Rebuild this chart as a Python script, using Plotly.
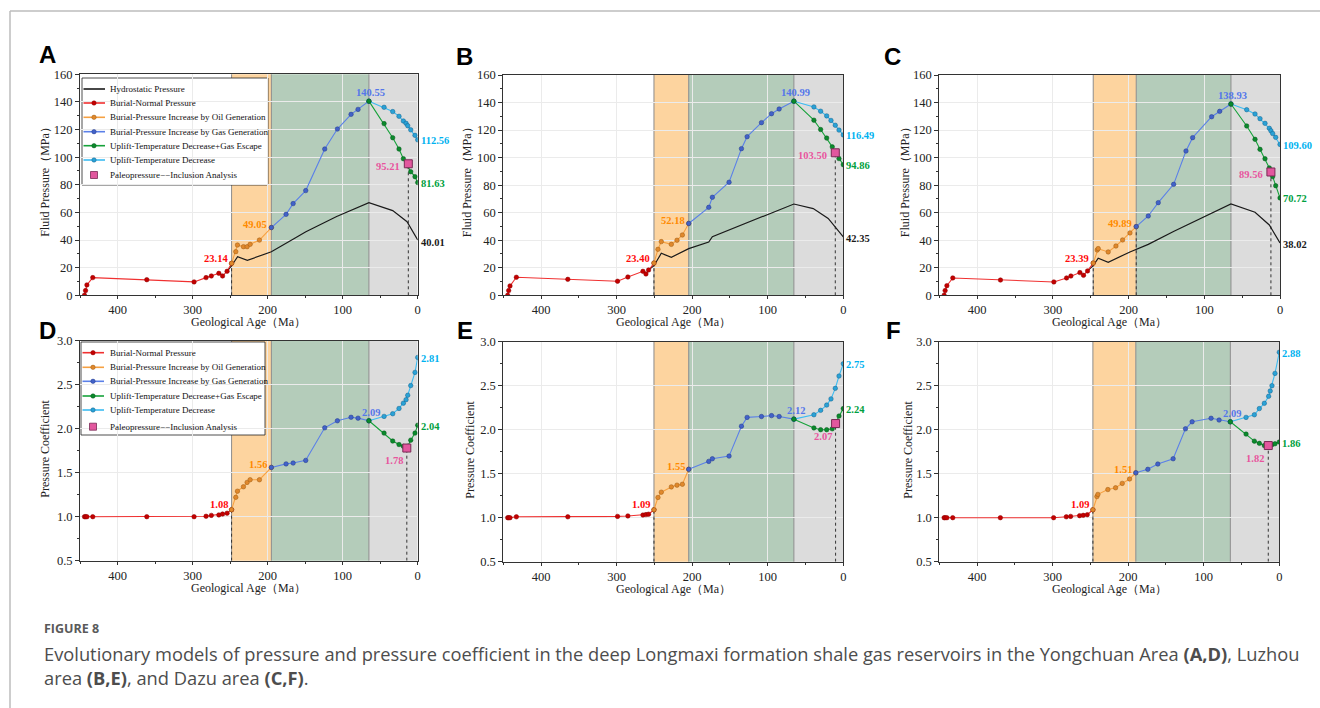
import plotly.graph_objects as go

W, H = 1320, 708

# ---------------- DATA ----------------
# Yongchuan area (A: fluid pressure, D: pressure coefficient)
yc_red_age = [444, 442.6, 440.8, 433, 361, 298, 282, 275, 265, 260, 254, 248]
yc_red_p = [0, 3.4, 7.5, 12.8, 11.3, 9.7, 12.8, 14.0, 15.9, 14.0, 17.4, 23.14]
yc_red_c = [1.0, 1.0, 1.0, 1.0, 1.0, 1.0, 1.005, 1.015, 1.02, 1.03, 1.04, 1.08]
yc_oil_age = [248, 242.4, 240.2, 232.2, 227.3, 223.3, 210.9, 195]
yc_oil_p = [23.14, 31.6, 36.4, 35.2, 35.2, 36.9, 40.0, 49.05]
yc_oil_c = [1.08, 1.22, 1.29, 1.34, 1.39, 1.42, 1.42, 1.56]
yc_gas_age = [195, 175.4, 166, 149.2, 123.9, 107, 88.8, 79.5, 65]
yc_gas_p = [49.05, 58.6, 66.4, 75.8, 105.9, 120.4, 131.0, 134.6, 140.55]
yc_gas_c = [1.56, 1.60, 1.61, 1.64, 2.01, 2.09, 2.13, 2.12, 2.09]
yc_up_age = [65, 44.8, 33.3, 24.9, 19.1, 15.5, 13.3, 9.3, 3.6, 0]
yc_up_p = [140.55, 136.1, 133.0, 129.6, 126.2, 124.5, 122.8, 119.8, 115.8, 112.56]
yc_up_c = [2.09, 2.14, 2.17, 2.23, 2.29, 2.33, 2.38, 2.49, 2.64, 2.81]
yc_esc_age = [65, 44.8, 33.3, 24.9, 19.1, 13.3, 9.3, 3.6, 0]
yc_esc_p = [140.55, 124.3, 114.1, 105.9, 98.9, 93.8, 89.5, 85.9, 81.63]
yc_esc_c = [2.09, 1.95, 1.86, 1.82, 1.80, 1.80, 1.87, 1.95, 2.04]
yc_hyd_age = [254, 248, 240, 227, 195, 177.6, 165.6, 149, 108, 65, 33.3, 14.2, 0]
yc_hyd_p = [17.4, 21.4, 28.0, 25.3, 31.5, 36.7, 40.8, 46.0, 57.0, 67.1, 61.3, 53.3, 40.01]
yc_paleo_age_p, yc_paleo_p = 12.5, 95.21
yc_paleo_age_c, yc_paleo_c = 14.5, 1.78
yc_bands = [248, 195, 65]

# Luzhou area (B, E)
lz_red_age = [444.2, 442.9, 441.1, 432.7, 364.6, 298.8, 285.1, 265.2, 261.2, 257.7, 250.6]
lz_red_p = [0, 3.4, 6.8, 13.1, 11.6, 10.2, 13.3, 17.4, 15.5, 18.4, 23.40]
lz_red_c = [1.0, 1.0, 1.0, 1.01, 1.01, 1.015, 1.02, 1.03, 1.035, 1.04, 1.09]
lz_oil_age = [250.6, 245.3, 240.9, 227.6, 220.1, 213, 204.6]
lz_oil_p = [23.40, 33.4, 39.0, 37.0, 40.0, 43.8, 52.18]
lz_oil_c = [1.09, 1.23, 1.29, 1.35, 1.37, 1.38, 1.55]
lz_gas_age = [204.6, 178.1, 173.3, 151.2, 134.8, 127.3, 108.3, 95, 84.9, 65.4]
lz_gas_p = [52.18, 63.9, 71.2, 82.1, 106.5, 115.2, 125.4, 131.9, 135.3, 140.99]
lz_gas_c = [1.55, 1.64, 1.67, 1.70, 2.04, 2.14, 2.15, 2.16, 2.15, 2.12]
lz_up_age = [65.4, 38.9, 30, 22, 16.3, 10.6, 5.7, 0]
lz_up_p = [140.99, 136.8, 133.7, 130.3, 127.0, 123.5, 120.0, 116.49]
lz_up_c = [2.12, 2.17, 2.22, 2.28, 2.35, 2.47, 2.61, 2.75]
lz_esc_age = [65.4, 38.9, 30, 22, 14.6, 10.6, 5.7, 0]
lz_esc_p = [140.99, 127.2, 120.4, 114.2, 107.8, 103.6, 99.3, 94.86]
lz_esc_c = [2.12, 2.02, 2.0, 2.0, 2.01, 2.07, 2.155, 2.24]
lz_hyd_age = [257.7, 250.6, 240.9, 227.6, 204.6, 178.1, 173.3, 151.2, 65.4, 39.8, 20, 0]
lz_hyd_p = [18.4, 21.5, 30.5, 27.6, 33.9, 38.7, 42.6, 47.4, 66.3, 63.0, 55.8, 42.35]
lz_paleo_age_p, lz_paleo_p = 10.6, 103.50
lz_paleo_age_c, lz_paleo_c = 10.2, 2.07
lz_bands = [250.6, 204.6, 65.4]

# Dazu area (C, F)
dz_red_age = [443.6, 442.3, 440, 432.2, 369.2, 298.7, 281.9, 276.2, 264.3, 259.5, 254.2, 246.7]
dz_red_p = [0, 3.4, 7.0, 12.6, 11.1, 9.7, 12.6, 14.0, 16.5, 14.5, 17.7, 23.39]
dz_red_c = [1.0, 1.0, 1.0, 1.0, 1.0, 1.0, 1.01, 1.015, 1.023, 1.027, 1.034, 1.09]
dz_oil_age = [246.7, 241.4, 240.1, 226.9, 216.7, 207.9, 198.2, 189.9]
dz_oil_p = [23.39, 32.9, 33.9, 31.5, 35.8, 40.2, 45.3, 49.89]
dz_oil_c = [1.09, 1.24, 1.265, 1.32, 1.34, 1.39, 1.44, 1.51]
dz_gas_age = [189.9, 174, 160.8, 140.5, 124.2, 115.4, 90.3, 79.7, 64.8]
dz_gas_p = [49.89, 57.6, 67.3, 80.6, 104.8, 114.5, 129.7, 133.6, 138.93]
dz_gas_c = [1.51, 1.55, 1.61, 1.67, 2.01, 2.09, 2.13, 2.11, 2.09]
dz_up_age = [64.8, 44, 33, 26.4, 19.8, 14.1, 12, 9.7, 5.7, 0]
dz_up_p = [138.93, 134.8, 131.7, 128.3, 124.9, 121.3, 119.5, 117.5, 114.7, 109.60]
dz_up_c = [2.09, 2.14, 2.17, 2.24, 2.30, 2.38, 2.44, 2.50, 2.64, 2.88]
dz_esc_age = [64.8, 44, 33, 26.4, 19.8, 14.1, 9.7, 5.7, 0]
dz_esc_p = [138.93, 123.0, 113.3, 106.0, 99.2, 92.5, 86.2, 79.6, 70.72]
dz_esc_c = [2.09, 1.95, 1.87, 1.845, 1.82, 1.82, 1.83, 1.84, 1.86]
dz_hyd_age = [254.2, 246.7, 240.1, 226.9, 198.2, 174, 140, 64.8, 33, 14.1, 0]
dz_hyd_p = [17.7, 21.5, 26.9, 24.0, 31.5, 37.0, 46.5, 66.3, 60.3, 51.1, 38.02]
dz_paleo_age_p, dz_paleo_p = 12.0, 89.56
dz_paleo_age_c, dz_paleo_c = 14.6, 1.82
dz_bands = [246.7, 189.9, 64.8]

x_ticks = [0, 100, 200, 300, 400]
p_ticks = [0, 20, 40, 60, 80, 100, 120, 140, 160]
c_ticks = [0.5, 1.0, 1.5, 2.0, 2.5, 3.0]

legend_names = ["Hydrostatic Pressure", "Burial-Normal Pressure",
                "Burial-Pressure Increase by Oil Generation",
                "Burial-Pressure Increase by Gas Generation",
                "Uplift-Temperature Decrease+Gas Escape",
                "Uplift-Temperature Decrease",
                "Paleopressure\u2212\u2212Inclusion Analysis"]

# ---------------- STYLE ----------------
SERIF = "Liberation Serif"
C_RED = dict(line="#f03030", mk="#c40000", ol="#8a0000", lab="#ff0a0a")
C_OIL = dict(line="#f6a142", mk="#e0882c", ol="#9c5a10", lab="#ff8a00")
C_GAS = dict(line="#5b80e8", mk="#4262c8", ol="#22388a", lab="#5577ea")
C_ESC = dict(line="#16a23a", mk="#0b8a2c", ol="#05561a", lab="#00a040")
C_UP = dict(line="#3cbcf2", mk="#2aa2d6", ol="#15638f", lab="#00b2f0")
C_PINK = dict(mk="#e2579e", ol="#7a2a55", lab="#e8559e")
C_HYD = dict(line="#1a1a1a", lab="#1a1a1a")
BAND_COLS = ["#fdd49f", "#b4ccba", "#dcdcdc"]

geo = {
    "A": (80, 417.7, 74.3, 295.3),
    "B": (503.3, 843.3, 75, 295.3),
    "C": (939.3, 1280, 75, 295.3),
    "D": (80, 417.7, 340.7, 560.7),
    "E": (503.3, 843.3, 341.7, 561.7),
    "F": (939.3, 1279.3, 341.7, 561.7),
}
axid = {"A": "", "B": "2", "C": "3", "D": "4", "E": "5", "F": "6"}

fig = go.Figure()
shapes, annos = [], []

layout_axes = {}
for key, (x0, x1, yt, yb) in geo.items():
    s = axid[key]
    top = key in "ABC"
    layout_axes["xaxis" + s] = dict(
        domain=[x0 / W, x1 / W], anchor="y" + s, range=[450, 0],
        tickvals=x_ticks, showline=True, linecolor="#333", linewidth=1, mirror=True,
        ticks="outside", ticklen=3, tickcolor="#333",
        tickfont=dict(family=SERIF, size=12.5, color="#222"),
        showgrid=True, gridcolor="#ebebeb", zeroline=False,
        minor=dict(dtick=50, tick0=0, ticks="outside", ticklen=2, tickcolor="#333", showgrid=False),
    )
    layout_axes["yaxis" + s] = dict(
        domain=[1 - yb / H, 1 - yt / H], anchor="x" + s,
        range=[0, 160] if top else [0.5, 3.0],
        tickvals=p_ticks if top else c_ticks,
        ticktext=[str(v) for v in p_ticks] if top else [f"{v:.1f}" for v in c_ticks],
        showline=True, linecolor="#333", linewidth=1, mirror=True,
        ticks="outside", ticklen=4, tickcolor="#333",
        tickfont=dict(family=SERIF, size=12.5, color="#222"),
        showgrid=True, gridcolor="#ebebeb", zeroline=False,
        minor=dict(dtick=10 if top else 0.25, tick0=0, ticks="outside", ticklen=2.5,
                   tickcolor="#333", showgrid=False),
    )


def add_line(s, xs, ys, col, marker=True, width=1.1, dash="solid"):
    fig.add_trace(go.Scatter(
        x=xs, y=ys, xaxis="x" + s, yaxis="y" + s,
        mode="lines+markers" if marker else "lines",
        line=dict(color=col["line"], width=width, dash=dash),
        marker=dict(size=4.5, color=col.get("mk"), line=dict(color=col.get("ol"), width=0.5)) if marker else None,
        showlegend=False, hoverinfo="skip"))


def add_label(s, x, y, txt, color, xanchor, yanchor, xshift, yshift):
    annos.append(dict(x=x, y=y, xref="x" + s, yref="y" + s, text="<b>%s</b>" % txt,
                      showarrow=False, xanchor=xanchor, yanchor=yanchor, xshift=xshift,
                      yshift=yshift, font=dict(family=SERIF, size=10.5, color=color)))


def panel(key, bands, red, oil, gas, up, esc, paleo, hyd=None, extra_dot=None, pink_below=False):
    s = axid[key]
    ymin = 0 if hyd is not None else 0.5
    xref, ydom = "x" + s, "y" + s + " domain"
    edges = [bands[0], bands[1], bands[2], 0]
    for i in range(3):
        shapes.append(dict(type="rect", xref=xref, yref=ydom, x0=edges[i], x1=edges[i + 1],
                           y0=0, y1=1, fillcolor=BAND_COLS[i], line=dict(width=0), layer="below"))
    for e in bands:
        shapes.append(dict(type="line", xref=xref, yref=ydom, x0=e, x1=e, y0=0, y1=1,
                           line=dict(color="#8c8c8c", width=1), layer="below"))
    # dotted guide lines
    dots = [(red[0][-1], red[1][-1]), (paleo[0], paleo[1])]
    if extra_dot:
        dots.append(extra_dot)
    for (ax_, v) in dots:
        add_line(s, [ax_, ax_], [ymin, v], dict(line="#333"), marker=False, width=1, dash="dot")
    if hyd is not None:
        add_line(s, hyd[0], hyd[1], C_HYD, marker=False, width=1.2)
    add_line(s, red[0], red[1], C_RED)
    add_line(s, oil[0], oil[1], C_OIL)
    add_line(s, gas[0], gas[1], C_GAS)
    add_line(s, up[0], up[1], C_UP)
    add_line(s, esc[0], esc[1], C_ESC)
    fig.add_trace(go.Scatter(x=[paleo[0]], y=[paleo[1]], xaxis="x" + s, yaxis="y" + s, mode="markers",
                             marker=dict(symbol="square", size=8, color=C_PINK["mk"],
                                         line=dict(color=C_PINK["ol"], width=1)),
                             showlegend=False, hoverinfo="skip"))
    # value labels
    add_label(s, red[0][-1], red[1][-1], f"{red[1][-1]:.2f}", C_RED["lab"], "right", "middle", -2, 5)
    add_label(s, oil[0][-1], oil[1][-1], f"{oil[1][-1]:.2f}", C_OIL["lab"], "right", "middle", -2, 3)
    add_label(s, gas[0][-1], gas[1][-1], f"{gas[1][-1]:.2f}", C_GAS["lab"], "center", "bottom", 2, 1)
    add_label(s, up[0][-1], up[1][-1], f"{up[1][-1]:.2f}", C_UP["lab"], "left", "middle", 1, -1)
    add_label(s, esc[0][-1], esc[1][-1], f"{esc[1][-1]:.2f}", C_ESC["lab"], "left", "middle", 1, -1)
    if pink_below:
        add_label(s, paleo[0], paleo[1], f"{paleo[1]:.2f}", C_PINK["lab"], "right", "top", -2, -5)
    else:
        add_label(s, paleo[0], paleo[1], f"{paleo[1]:.2f}", C_PINK["lab"], "right", "middle", -6, -3)
    if hyd is not None:
        add_label(s, hyd[0][-1], hyd[1][-1], f"{hyd[1][-1]:.2f}", C_HYD["lab"], "left", "middle", 1, -2)


panel("A", yc_bands, (yc_red_age, yc_red_p), (yc_oil_age, yc_oil_p), (yc_gas_age, yc_gas_p),
      (yc_up_age, yc_up_p), (yc_esc_age, yc_esc_p), (yc_paleo_age_p, yc_paleo_p), hyd=(yc_hyd_age, yc_hyd_p))
panel("B", lz_bands, (lz_red_age, lz_red_p), (lz_oil_age, lz_oil_p), (lz_gas_age, lz_gas_p),
      (lz_up_age, lz_up_p), (lz_esc_age, lz_esc_p), (lz_paleo_age_p, lz_paleo_p), hyd=(lz_hyd_age, lz_hyd_p))
panel("C", dz_bands, (dz_red_age, dz_red_p), (dz_oil_age, dz_oil_p), (dz_gas_age, dz_gas_p),
      (dz_up_age, dz_up_p), (dz_esc_age, dz_esc_p), (dz_paleo_age_p, dz_paleo_p), hyd=(dz_hyd_age, dz_hyd_p),
      extra_dot=(dz_oil_age[-1], dz_oil_p[-1]))
panel("D", yc_bands, (yc_red_age, yc_red_c), (yc_oil_age, yc_oil_c), (yc_gas_age, yc_gas_c),
      (yc_up_age, yc_up_c), (yc_esc_age, yc_esc_c), (yc_paleo_age_c, yc_paleo_c), pink_below=True)
panel("E", lz_bands, (lz_red_age, lz_red_c), (lz_oil_age, lz_oil_c), (lz_gas_age, lz_gas_c),
      (lz_up_age, lz_up_c), (lz_esc_age, lz_esc_c), (lz_paleo_age_c, lz_paleo_c), pink_below=True)
panel("F", dz_bands, (dz_red_age, dz_red_c), (dz_oil_age, dz_oil_c), (dz_gas_age, dz_gas_c),
      (dz_up_age, dz_up_c), (dz_esc_age, dz_esc_c), (dz_paleo_age_c, dz_paleo_c), pink_below=True)


# ---------------- manual legends ----------------
def legend(key, box, item_ys, names, cols, text_x):
    x0, x1, yt, yb = geo[key]
    s = axid[key]
    w, h = x1 - x0, yb - yt
    dx = lambda px: (px - x0) / w
    dy = lambda py: (yb - py) / h
    xr, yr = "x" + s + " domain", "y" + s + " domain"
    shapes.append(dict(type="rect", xref=xr, yref=yr, x0=dx(box[0]), x1=dx(box[2]), y0=dy(box[3]),
                       y1=dy(box[1]), fillcolor="white", line=dict(color="#222", width=0.8), layer="below"))
    for yy, nm, col in zip(item_ys, names, cols):
        if col == "pink":
            shapes.append(dict(type="rect", xref=xr, yref=yr, xsizemode="pixel", ysizemode="pixel",
                               xanchor=dx(box[0] + 12), yanchor=dy(yy), x0=-3.5, x1=3.5, y0=-3.5, y1=3.5,
                               fillcolor=C_PINK["mk"], line=dict(color=C_PINK["ol"], width=0.8), layer="above"))
        else:
            shapes.append(dict(type="line", xref=xr, yref=yr, x0=dx(box[0] + 1.5), x1=dx(box[0] + 23),
                               y0=dy(yy), y1=dy(yy), line=dict(color=col["line"], width=1.6), layer="above"))
            if "mk" in col:
                shapes.append(dict(type="circle", xref=xr, yref=yr, xsizemode="pixel", ysizemode="pixel",
                                   xanchor=dx(box[0] + 12), yanchor=dy(yy), x0=-2.2, x1=2.2, y0=-2.2, y1=2.2,
                                   fillcolor=col["mk"], line=dict(color=col["ol"], width=0.5), layer="above"))
        annos.append(dict(xref=xr, yref=yr, x=dx(text_x), y=dy(yy), text=nm, showarrow=False,
                          xanchor="left", yanchor="middle",
                          font=dict(family=SERIF, size=9, color="#111")))


cols_all = [C_HYD, C_RED, C_OIL, C_GAS, C_ESC, C_UP, "pink"]
legend("A", (82, 78, 268, 185), [89, 103, 117.3, 131.7, 145.7, 160, 175], legend_names, cols_all, 108)
legend("D", (81, 342, 265, 435), [352.7, 367.3, 381.3, 396, 410, 426.7], legend_names[1:], cols_all[1:], 108)

# ---------------- titles, letters, caption ----------------
for key, (x0, x1, yt, yb) in geo.items():
    top = key in "ABC"
    annos.append(dict(xref="paper", yref="paper", x=(x0 + x1) / 2 / W,
                      y=1 - (yb + 27) / H, text="Geological Age\uff08Ma\uff09",
                      showarrow=False, xanchor="center", yanchor="middle",
                      font=dict(family=SERIF, size=12, color="#222")))
ytitle_x = {"A": 45, "B": 467, "C": 905, "D": 45, "E": 470, "F": 908}
for key, (x0, x1, yt, yb) in geo.items():
    top = key in "ABC"
    annos.append(dict(xref="paper", yref="paper", x=ytitle_x[key] / W,
                      y=1 - ((yt + yb) / 2 - (6 if top else 2)) / H,
                      text="Fluid Pressure\uff08MPa\uff09" if top else "Pressure Coefficient",
                      textangle=-90, showarrow=False, xanchor="center", yanchor="middle",
                      font=dict(family=SERIF, size=12, color="#222")))
letter_pos = {"A": (37, 55), "B": (454, 56), "C": (882, 56), "D": (37, 330), "E": (455, 331), "F": (884, 330)}
for k, (lx, ly) in letter_pos.items():
    annos.append(dict(xref="paper", yref="paper", x=lx / W, y=1 - ly / H, text="<b>%s</b>" % k,
                      showarrow=False, xanchor="left", yanchor="middle",
                      font=dict(family="Liberation Sans", size=24, color="#000")))

CAP_FONT = "Open Sans"
annos.append(dict(xref="paper", yref="paper", x=42 / W, y=1 - 628 / H, text="<b>FIGURE 8</b>",
                  showarrow=False, xanchor="left", yanchor="middle",
                  font=dict(family=CAP_FONT, size=12.5, color="#5a5a5a")))
annos.append(dict(xref="paper", yref="paper", x=42 / W, y=1 - 653 / H,
                  text="Evolutionary models of pressure and pressure coefficient in the deep Longmaxi formation "
                       "shale gas reservoirs in the Yongchuan Area <b>(A,D)</b>, Luzhou",
                  showarrow=False, xanchor="left", yanchor="middle",
                  font=dict(family=CAP_FONT, size=18.3, color="#4d4d4d")))
annos.append(dict(xref="paper", yref="paper", x=42 / W, y=1 - 677 / H,
                  text="area <b>(B,E)</b>, and Dazu area <b>(C,F)</b>.",
                  showarrow=False, xanchor="left", yanchor="middle",
                  font=dict(family=CAP_FONT, size=18.3, color="#4d4d4d")))

# page frame lines
shapes.append(dict(type="line", xref="paper", yref="paper", x0=10 / W, x1=1, y0=1 - 11 / H, y1=1 - 11 / H,
                   line=dict(color="#bdbdbd", width=1.5)))
shapes.append(dict(type="line", xref="paper", yref="paper", x0=10 / W, x1=10 / W, y0=0, y1=1 - 11 / H,
                   line=dict(color="#bdbdbd", width=1.5)))

fig.update_layout(width=W, height=H, margin=dict(l=0, r=0, t=0, b=0, autoexpand=False),
                  paper_bgcolor="white", plot_bgcolor="white", showlegend=False,
                  shapes=shapes, annotations=annos, **layout_axes)

fig.write_html("out.html", config={"displayModeBar": False, "responsive": False},
               post_script="document.body.style.margin='0';document.body.style.overflow='hidden';")
